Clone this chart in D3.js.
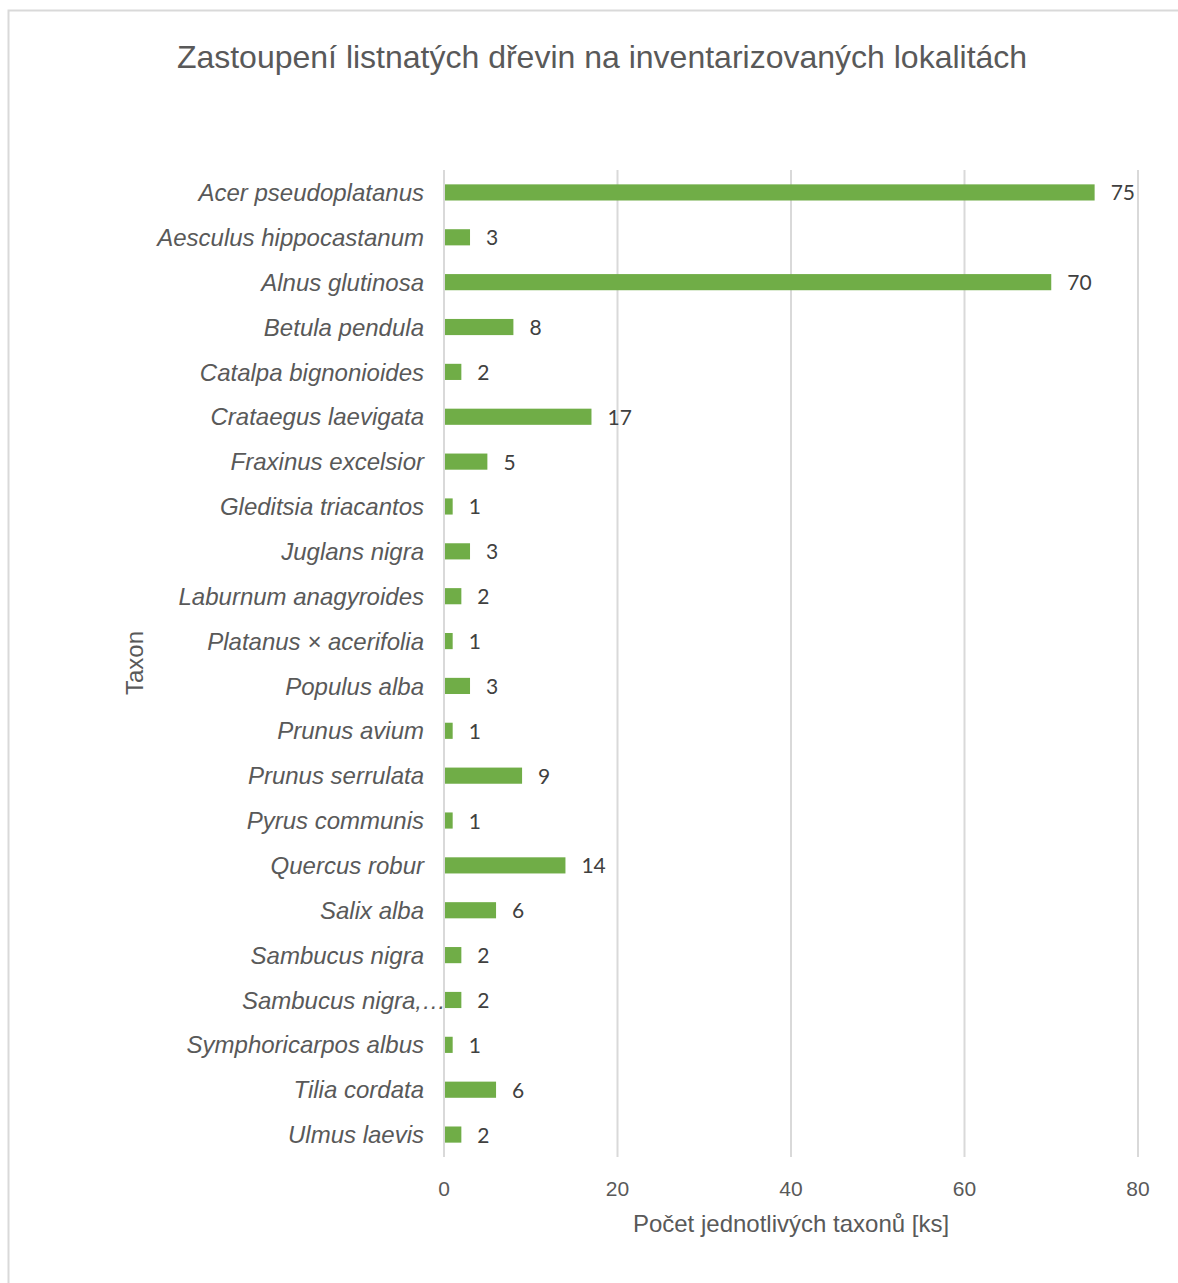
<!DOCTYPE html>
<html>
<head>
<meta charset="utf-8">
<script src="https://cdn.jsdelivr.net/npm/d3@7"></script>
<style>
  body { margin: 0; background: #fff; }
  svg { display: block; }
</style>
</head>
<body>
<script>
var taxa = ['Acer pseudoplatanus', 'Aesculus hippocastanum', 'Alnus glutinosa', 'Betula pendula',
    'Catalpa bignonioides', 'Crataegus laevigata', 'Fraxinus excelsior', 'Gleditsia triacantos',
    'Juglans nigra', 'Laburnum anagyroides', 'Platanus × acerifolia', 'Populus alba',
    'Prunus avium', 'Prunus serrulata', 'Pyrus communis', 'Quercus robur', 'Salix alba',
    'Sambucus nigra', 'Sambucus nigra,…', 'Symphoricarpos albus', 'Tilia cordata', 'Ulmus laevis'];
var counts = [75, 3, 70, 8, 2, 17, 5, 1, 3, 2, 1, 3, 1, 9, 1, 14, 6, 2, 2, 1, 6, 2];
var xTicks = [0, 20, 40, 60, 80];

var width = 1178, height = 1283;

var svg = d3.select('body').append('svg')
    .attr('width', width)
    .attr('height', height);

// chart border (runs off the right and bottom of the picture)
svg.append('rect')
    .attr('x', 8.5).attr('y', 10.5)
    .attr('width', 1300).attr('height', 1400)
    .attr('fill', 'none')
    .attr('stroke', '#d9d9d9')
    .attr('stroke-width', 2);

var x = d3.scaleLinear().domain([0, 80]).range([444, 1138]);
var y = d3.scaleBand().domain(taxa).range([170, 1157]).paddingInner(0.64).paddingOuter(0.32);

// gridlines
svg.append('g')
    .selectAll('line')
    .data(xTicks)
    .join('line')
    .attr('x1', function (d) { return x(d); })
    .attr('x2', function (d) { return x(d); })
    .attr('y1', 170)
    .attr('y2', 1157)
    .attr('stroke', '#d9d9d9')
    .attr('stroke-width', 2);

// bars
svg.append('g')
    .selectAll('rect')
    .data(counts)
    .join('rect')
    .attr('x', x(0) + 1)
    .attr('y', function (d, i) { return y(taxa[i]); })
    .attr('width', function (d) { return x(d) - x(0) - 1; })
    .attr('height', y.bandwidth())
    .attr('fill', '#70ad47');

// value labels
svg.append('g')
    .selectAll('text')
    .data(counts)
    .join('text')
    .attr('x', function (d) { return x(d) + 16; })
    .attr('y', function (d, i) { return y(taxa[i]) + y.bandwidth() / 2; })
    .attr('dy', '0.38em')
    .attr('font-family', 'Lato, "Open Sans", sans-serif')
    .attr('font-size', 21)
    .attr('fill', '#404040')
    .text(function (d) { return d; });

// category labels
svg.append('g')
    .selectAll('text')
    .data(taxa)
    .join('text')
    .attr('x', function (d) { return d.indexOf('…') >= 0 ? 446 : 424; })
    .attr('y', function (d) { return y(d) + y.bandwidth() / 2; })
    .attr('dy', '0.36em')
    .attr('text-anchor', 'end')
    .attr('font-family', '"Liberation Sans", Arial, sans-serif')
    .attr('font-style', 'italic')
    .attr('font-size', 24)
    .attr('fill', '#595959')
    .text(function (d) { return d; });

// x axis tick labels
svg.append('g')
    .selectAll('text')
    .data(xTicks)
    .join('text')
    .attr('x', function (d) { return x(d); })
    .attr('y', 1196)
    .attr('text-anchor', 'middle')
    .attr('font-family', '"Liberation Sans", Arial, sans-serif')
    .attr('font-size', 21)
    .attr('fill', '#595959')
    .text(function (d) { return d; });

// title
svg.append('text')
    .attr('x', 602)
    .attr('y', 68)
    .attr('text-anchor', 'middle')
    .attr('font-family', '"Liberation Sans", Arial, sans-serif')
    .attr('font-size', 32)
    .attr('fill', '#595959')
    .text('Zastoupení listnatých dřevin na inventarizovaných lokalitách');

// axis titles
svg.append('text')
    .attr('x', 791)
    .attr('y', 1232)
    .attr('text-anchor', 'middle')
    .attr('font-family', '"Liberation Sans", Arial, sans-serif')
    .attr('font-size', 24)
    .attr('fill', '#595959')
    .text('Počet jednotlivých taxonů [ks]');

svg.append('text')
    .attr('transform', 'translate(143,663) rotate(-90)')
    .attr('text-anchor', 'middle')
    .attr('font-family', '"Liberation Sans", Arial, sans-serif')
    .attr('font-size', 24)
    .attr('fill', '#595959')
    .text('Taxon');
</script>
</body>
</html>
